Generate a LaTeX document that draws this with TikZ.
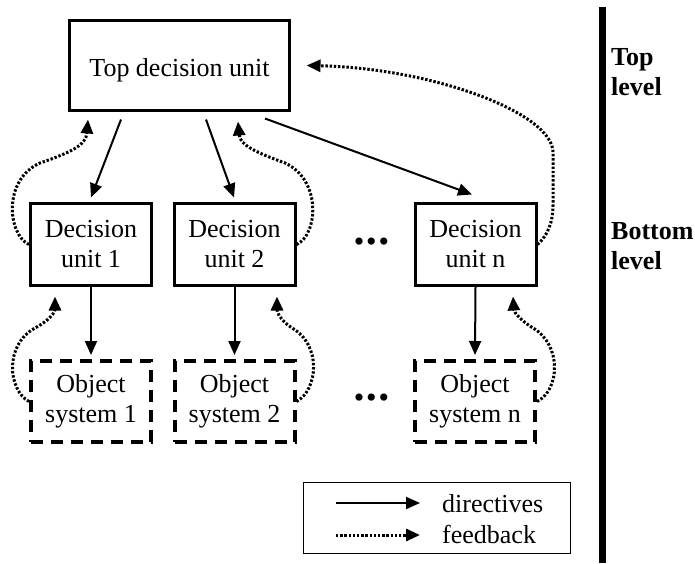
\documentclass[tikz,border=0pt]{standalone}
\usepackage{fontspec}
\setmainfont{Liberation Serif}
\usetikzlibrary{arrows.meta}
\begin{document}
\begin{tikzpicture}[x=1pt,y=-1pt,
  txt/.style={font=\fontsize{26}{30}\selectfont},
  unitbox/.style={txt, draw, line width=3pt, inner sep=0pt, align=center,
    minimum width=121pt, minimum height=82pt},
  objbox/.style={txt, draw, line width=4pt, inner sep=0pt, align=center,
    minimum width=120pt, minimum height=81pt, dash pattern=on 12pt off 8pt},
  dir/.style={line width=2pt, -{Triangle[length=14pt,width=12pt]}},
  fb/.style={line width=3pt, dash pattern=on 2.4pt off 1.8pt, -{Triangle[length=14pt,width=12pt]}},
  lvl/.style={txt, font=\fontsize{26}{30}\selectfont\bfseries, align=left, inner sep=0pt, anchor=west},
  dotsnode/.style={inner sep=0pt, font=\fontsize{30}{30}\selectfont}
]
\useasboundingbox (0,0) rectangle (695,563);

% nodes
\node[txt, draw, line width=3pt, inner sep=0pt, minimum width=220pt, minimum height=90pt,
  text height=22pt, text depth=0pt] (top) at (179.5,65.5) {Top decision unit};
\node[unitbox] (du1) at (91,244.5) {Decision\\unit 1};
\node[unitbox] (du2) at (234.5,244.5) {Decision\\unit 2};
\node[unitbox] (dun) at (475.5,244.5) {Decision\\unit n};
\node[objbox] (os1) at (91,401.5) {Object\\system 1};
\node[objbox] (os2) at (234.5,401.5) {Object\\system 2};
\node[objbox] (osn) at (475,401.5) {Object\\system n};

\node[dotsnode] (dots1) at (371.5,245) {•\kern2pt•\kern2pt•};
\node[dotsnode] (dots2) at (371.5,401) {•\kern2pt•\kern2pt•};

% directives
\draw[dir] ([shift={(-58.5pt,-7.5pt)}]top.south) -- ([shift={(0pt,4.5pt)}]du1.north);
\draw[dir] ([shift={(26.5pt,-7.5pt)}]top.south) -- ([shift={(-0.5pt,4.5pt)}]du2.north);
\draw[dir] ([shift={(85.5pt,-6.5pt)}]top.south) -- ([shift={(-3.5pt,7.5pt)}]dun.north);
\draw[dir] (du1.south) -- ([yshift=4pt]os1.north);
\draw[dir] (du2.south) -- ([yshift=4pt]os2.north);
\draw[dir] (dun.south) -- ([yshift=4pt]osn.north);

% feedback
\draw[fb] (du1.west) .. controls (8,235) and (2,180) .. (40,163)
  .. controls (72,152) and (86,145) .. ([shift={(-91.5pt,-7.5pt)}]top.south);
\draw[fb] (du2.east) .. controls (318,235) and (322,180) .. (285,163)
  .. controls (255,152) and (240,145) .. ([shift={(58.5pt,-9.5pt)}]top.south);
\draw[fb] (dun.east) .. controls (548,235) and (553,222) .. (553,205) -- (553,152)
  .. controls (552,112) and (430,68) .. ([xshift=15.5pt]top.east);
\draw[fb] (os1.west) .. controls (8,390) and (4,345) .. (35,328)
  .. controls (50,320) and (55,312) .. ([shift={(-36pt,-9.5pt)}]du1.south);
\draw[fb] (os2.east) .. controls (318,390) and (322,345) .. (292,328)
  .. controls (280,320) and (277,312) .. ([shift={(42.5pt,-9.5pt)}]du2.south);
\draw[fb] (osn.east) .. controls (560,390) and (562,345) .. (533,328)
  .. controls (520,320) and (514,312) .. ([shift={(37.5pt,-9.5pt)}]dun.south);

% level separator and labels
\coordinate (bartop) at (602.5,7);
\coordinate (barbot) at (602.5,563);
\draw[line width=7pt] (bartop) -- (barbot);
\node[lvl] (toplvl) at (611,72.4) {Top\\level};
\node[lvl] (botlvl) at (611,246) {Bottom\\level};

% legend
\node[draw, line width=1.2pt, minimum width=267pt, minimum height=71pt, inner sep=0pt] (legend) at (437,518) {};
\coordinate (l1a) at (336,503);
\coordinate (l1b) at (420,503);
\coordinate (l2a) at (336,535);
\coordinate (l2b) at (420,535);
\draw[dir] (l1a) -- (l1b);
\draw[fb] (l2a) -- (l2b);
\node[txt, anchor=base west, inner sep=0pt] (ldir) at (442,512) {directives};
\node[txt, anchor=base west, inner sep=0pt] (lfb) at (442,543) {feedback};
\end{tikzpicture}
\end{document}
